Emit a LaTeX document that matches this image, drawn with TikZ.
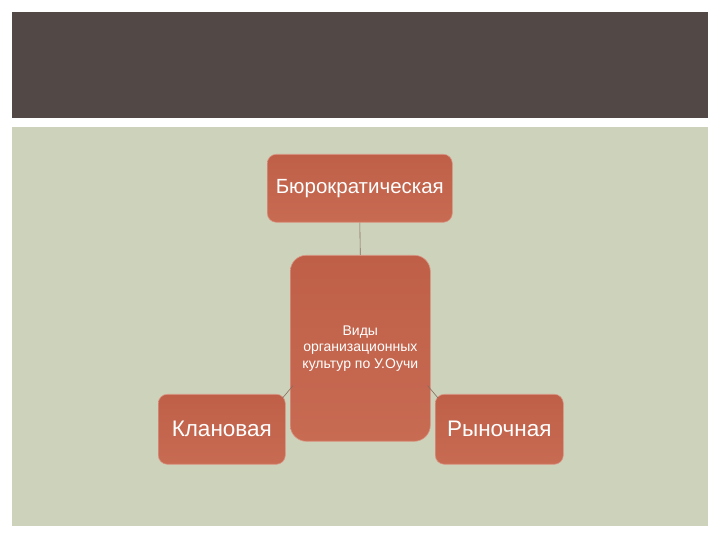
\documentclass[tikz,border=0pt]{standalone}
\usepackage{fontspec}
\setmainfont{Liberation Sans}
\definecolor{darkband}{HTML}{524947}
\definecolor{sage}{HTML}{CDD3BA}
\definecolor{boxtop}{HTML}{BF5F48}
\definecolor{boxbot}{HTML}{C86B53}
\definecolor{linkc}{HTML}{8A6A5E}
\tikzset{
  x=1pt,y=1pt,
  cbox/.style={draw=boxbot!70!white, line width=0.6pt, top color=boxtop, bottom color=boxbot, text=white, align=center, inner sep=0pt, anchor=north west},
  link/.style={draw=linkc, line width=0.6pt}
}
\begin{document}
\begin{tikzpicture}
\useasboundingbox (0,0) rectangle (720,540);
\fill[white] (0,0) rectangle (720,540);
\fill[darkband] (12,540-12) rectangle (708,540-118);
\fill[sage] (12,540-127) rectangle (708,540-526);
\node[cbox, rounded corners=9, minimum width=185, minimum height=68, font=\fontsize{20.5}{24}\selectfont] (top) at (267,540-154) {Бюрократическая};
\node[cbox, rounded corners=16, minimum width=140, minimum height=186, font=\fontsize{14}{16.5}\selectfont] (mid) at (290,540-255) {Виды\\организационных\\культур по У.Оучи};
\node[cbox, rounded corners=9, minimum width=127, minimum height=70, font=\fontsize{22.5}{26}\selectfont] (left) at (158,540-394) {Клановая};
\node[cbox, rounded corners=9, minimum width=128, minimum height=70, font=\fontsize{22.5}{26}\selectfont] (right) at (435,540-394) {Рыночная};
\draw[link] (top.south) -- (mid.north);
\draw[link] ([xshift=-3,yshift=-4]left.north east) -- ([xshift=3,yshift=56]mid.south west);
\draw[link] ([xshift=3,yshift=-4]right.north west) -- ([xshift=-3,yshift=56]mid.south east);
\end{tikzpicture}
\end{document}
